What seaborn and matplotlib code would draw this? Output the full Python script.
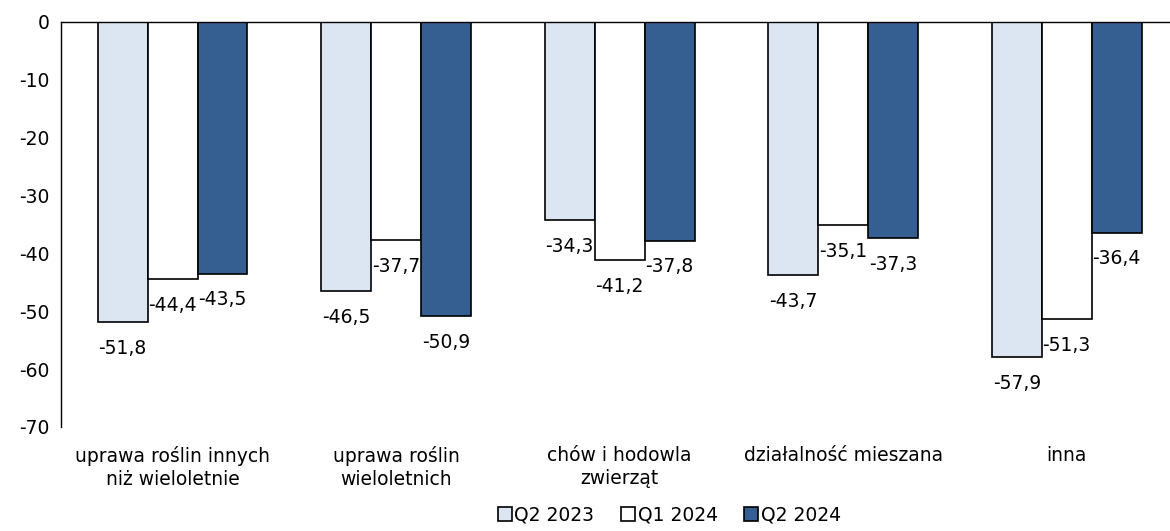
import seaborn as sns
import matplotlib.pyplot as plt
import pandas as pd
from matplotlib.patches import Patch

sns.set_style("white", {'axes.grid': False})
plt.rcParams['font.family'] = ['DejaVu Sans']
plt.rcParams['axes.unicode_minus'] = False
plt.rcParams['text.color'] = 'black'
plt.rcParams['xtick.color'] = 'black'
plt.rcParams['ytick.color'] = 'black'

# data
categories = ["uprawa roślin innych\nniż wieloletnie", "uprawa roślin\nwieloletnich",
              "chów i hodowla\nzwierząt", "działalność mieszana", "inna"]
series = ["Q2 2023", "Q1 2024", "Q2 2024"]
q2_2023 = [-51.8, -46.5, -34.3, -43.7, -57.9]
q1_2024 = [-44.4, -37.7, -41.2, -35.1, -51.3]
q2_2024 = [-43.5, -50.9, -37.8, -37.3, -36.4]
colors = ["#DCE6F2", "#FFFFFF", "#365F91"]

df = pd.DataFrame({
    "kategoria": categories * 3,
    "okres": [s for s in series for _ in categories],
    "wartosc": q2_2023 + q1_2024 + q2_2024,
})

fs = 13.5
f = plt.figure(figsize=(11.7, 5.31), dpi=100)
ax = f.add_axes([0.052, 0.196, 0.948, 0.7628])

sns.barplot(data=df, x="kategoria", y="wartosc", hue="okres", order=categories,
            hue_order=series, palette=colors, saturation=1, width=0.67, gap=0,
            edgecolor="black", linewidth=1.2, errorbar=None, legend=False, ax=ax)

# value labels below the bar ends
for cont in ax.containers:
    for bar in cont:
        v = bar.get_height()
        ax.annotate(f"{v:.1f}".replace(".", ","),
                    (bar.get_x() + bar.get_width() / 2, v),
                    xytext=(0, -19), textcoords="offset points",
                    ha="center", va="center", fontsize=fs)

ax.set_ylim(-70, 0)
ax.set_yticks(range(-70, 1, 10))
ax.set_xlim(-0.5, -0.5 + 1109 / 223.5)
ax.set(xlabel="", ylabel="")
ax.tick_params(axis="both", length=0, labelsize=fs)
ax.tick_params(axis="y", pad=8)
ax.tick_params(axis="x", pad=14)
for lab in ax.get_xticklabels():
    lab.set_linespacing(1.25)

ax.spines["bottom"].set_visible(False)
ax.spines["right"].set_visible(False)
for s in ["top", "left"]:
    ax.spines[s].set_color("black")
    ax.spines[s].set_linewidth(1.0)

handles = [Patch(facecolor=c, edgecolor="black", linewidth=1.2, label=s)
           for s, c in zip(series, colors)]
f.legend(handles=handles, loc="center", bbox_to_anchor=(0.572, 0.03), ncol=3,
         frameon=False, fontsize=fs, handlelength=0.75, handleheight=0.75,
         handletextpad=0.15, columnspacing=1.4)

f.savefig("out.png", dpi=100)
